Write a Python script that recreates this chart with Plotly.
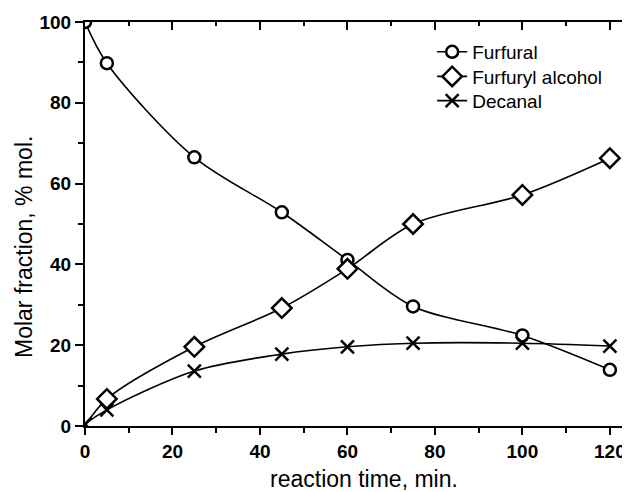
import plotly.graph_objects as go

# ---- data ----
time_min = [0, 5, 25, 45, 60, 75, 100, 120]
furfural = [100, 89.8, 66.5, 52.9, 41.1, 29.6, 22.4, 13.9]
furfuryl_alcohol = [0, 6.7, 19.6, 29.2, 38.9, 50.0, 57.2, 66.3]
decanal = [0.5, 4.0, 13.6, 17.8, 19.6, 20.5, 20.5, 19.8]

series_names = ["Furfural", "Furfuryl alcohol", "Decanal"]
x_tick_vals = [0, 20, 40, 60, 80, 100, 120]
y_tick_vals = [0, 20, 40, 60, 80, 100]

FONT = "Liberation Sans, Arial, sans-serif"
BLACK = "black"

marker_styles = [
    dict(symbol="circle", size=12, color="white", line=dict(color=BLACK, width=2.5)),
    dict(symbol="diamond", size=15, color="white", line=dict(color=BLACK, width=2.5)),
    dict(symbol="x-thin", size=13, color=BLACK, line=dict(color=BLACK, width=2.5)),
]
series_values = [furfural, furfuryl_alcohol, decanal]
# first point of furfuryl alcohol has no marker (line starts at origin)
marker_start = [0, 1, 0]
legend_ids = ["legend", "legend2", "legend3"]
legend_tops = [0.973, 0.912, 0.852]

fig = go.Figure()

# smooth curves
for vals in series_values:
    fig.add_trace(go.Scatter(
        x=time_min, y=vals, mode="lines",
        line=dict(color=BLACK, width=1.6, shape="spline", smoothing=0.9),
        showlegend=False, hoverinfo="skip", cliponaxis=True,
    ))

# markers
for vals, ms, start in zip(series_values, marker_styles, marker_start):
    fig.add_trace(go.Scatter(
        x=time_min[start:], y=vals[start:], mode="markers",
        marker=ms, showlegend=False, cliponaxis=True,
    ))

# legend-only entries (one legend each, so the row spacing can be matched)
for name, ms, lid in zip(series_names, marker_styles, legend_ids):
    fig.add_trace(go.Scatter(
        x=[None], y=[None], mode="lines+markers", name=name, legend=lid,
        line=dict(color=BLACK, width=1.6), marker=ms, showlegend=True,
    ))

axis_common = dict(
    showline=True, linecolor=BLACK, linewidth=2, showgrid=False, zeroline=False,
    tickcolor=BLACK, tickwidth=1.5, automargin=False,
)

legend_common = dict(
    x=0.637, xanchor="left", yanchor="top",
    bgcolor="rgba(0,0,0,0)", borderwidth=0,
    font=dict(family=FONT, size=19, color=BLACK),
)

# page body has an 8px margin: figure is sized so the page is 630x492
fig.update_layout(
    width=622, height=484,
    margin=dict(l=77, r=0, t=14, b=66, pad=0),
    paper_bgcolor="white", plot_bgcolor="white",
    font=dict(family=FONT, color=BLACK),
    xaxis=dict(
        range=[0, 124.6], tickvals=x_tick_vals, ticks="outside", ticklen=7,
        minor=dict(dtick=10, tick0=0, ticks="outside", ticklen=5, tickcolor=BLACK, tickwidth=1.5),
        tickfont=dict(family=FONT, size=19, weight="bold"),
        **axis_common,
    ),
    yaxis=dict(
        range=[0, 100], tickvals=y_tick_vals, ticks="outside", ticklen=8,
        minor=dict(dtick=10, tick0=0, ticks="outside", ticklen=5, tickcolor=BLACK, tickwidth=1.5),
        tickfont=dict(family=FONT, size=19, weight="bold"),
        **axis_common,
    ),
    xaxis2=dict(
        range=[0, 124.6], overlaying="x", side="top", tickvals=x_tick_vals,
        ticks="inside", ticklen=8, showticklabels=False,
        minor=dict(dtick=10, tick0=0, ticks="inside", ticklen=4, tickcolor=BLACK, tickwidth=1.5),
        **axis_common,
    ),
    yaxis2=dict(
        range=[0, 100], overlaying="y", side="right", tickvals=y_tick_vals,
        ticks="inside", ticklen=8, showticklabels=False,
        minor=dict(dtick=10, tick0=0, ticks="inside", ticklen=4, tickcolor=BLACK, tickwidth=1.5),
        **axis_common,
    ),
    legend=dict(y=legend_tops[0], **legend_common),
    legend2=dict(y=legend_tops[1], **legend_common),
    legend3=dict(y=legend_tops[2], **legend_common),
    annotations=[
        dict(text="reaction time, min.", xref="paper", yref="paper",
             x=0.512, y=-0.132, xanchor="center", yanchor="middle",
             showarrow=False, font=dict(family=FONT, size=23, color=BLACK)),
        dict(text="Molar fraction, % mol.", xref="paper", yref="paper",
             x=-0.112, y=0.443, xanchor="center", yanchor="middle", textangle=-90,
             showarrow=False, font=dict(family=FONT, size=23, color=BLACK)),
    ],
)

# invisible trace to activate the mirrored axes
fig.add_trace(go.Scatter(x=[None], y=[None], xaxis="x2", yaxis="y2",
                         showlegend=False, hoverinfo="skip"))

fig.write_html("out.html")
